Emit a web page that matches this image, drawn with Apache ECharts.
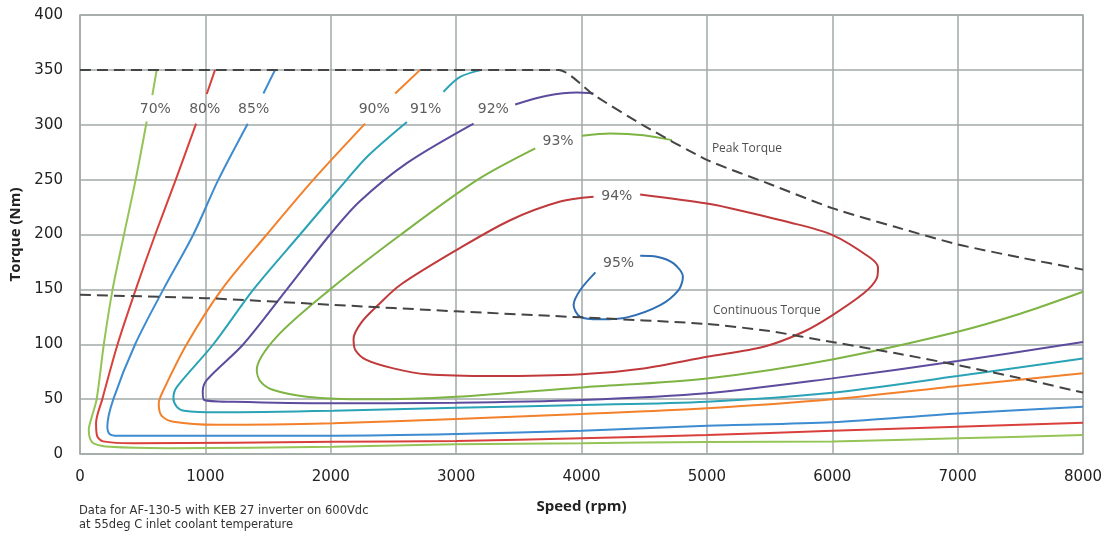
<!DOCTYPE html>
<html><head><meta charset="utf-8">
<script src="https://cdn.jsdelivr.net/npm/echarts@6/dist/echarts.min.js"></script>
<style>html,body{margin:0;padding:0;background:#fff}#c{width:1107px;height:536px}</style>
</head><body><div id="c"></div>
<script>
// Efficiency contours: "Top" = short piece above the label, "Main" = rest of the contour
const eff70Top = [[612,350],[577,327]];
const eff70Main = [[532,303],[444,250],[351,200],[260,150],[190,100],[133,50],[92,33],[70,22],[80,14],[112,9.5],[239,6.5],[692,5.2],[2020,6.7],[3000,8.8],[4000,9.7],[5000,11],[6000,11.5],[7000,14.3],[8000,17.3]];
const eff80Top = [[1077,350],[1011,328]];
const eff80Main = [[926,301],[764,250],[600,200],[445,150],[300,100],[178,50],[128,28],[138,16],[185,11.5],[425,9.7],[2020,11.2],[3000,11.8],[4000,14.3],[5000,17.3],[6000,21.2],[7000,24.9],[8000,28.5]];
const eff85Top = [[1556,350],[1463,328.5]];
const eff85Main = [[1338,301],[1104,250],[904,200],[665,150],[440,100],[266,50],[218,25],[238,18],[300,16.6],[692,16.7],[2020,16.7],[3000,18.2],[4000,21.2],[5000,25.8],[6000,28.9],[7000,37],[8000,43]];
const eff90Top = [[2713,350],[2514,328.5]];
const eff90Main = [[2274,301],[1862,250],[1490,200],[1131,150],[851,100],[665,58],[628,46],[650,35],[745,29.4],[1091,26.6],[2020,28],[3000,31.9],[4000,36.4],[5000,41.6],[6000,49.8],[7000,62],[8000,73.5]];
const eff91Top = [[3205,350],[3032,343.6],[2899,330]];
const eff91Main = [[2607,302.6],[2300,272],[2128,250],[1755,200],[1384,150],[1064,100],[772,61],[745,51],[772,43],[830,39.5],[1091,38],[2020,39.4],[3000,42.2],[4000,44.6],[5000,47.6],[6000,55.8],[7000,71],[8000,87]];
const eff92Top = [[4096,328.5],[3963,329.4],[3724,326.4],[3471,318.5]];
const eff92Main = [[3139,301],[2607,265],[2230,230],[1995,200],[1650,150],[1303,100],[1011,67.4],[979,57],[990,49.2],[1223,47.6],[2020,46.2],[3000,46.7],[4000,49.2],[5000,55.3],[6000,68.9],[7000,84.7],[8000,102]];
const eff93Top = [[4721,286],[4495,290.5],[4230,292],[4004,290]];
const eff93Main = [[3631,278.4],[3166,249.5],[2560,200],[1995,150],[1570,107],[1410,76.5],[1440,66],[1543,58.3],[1809,52.2],[2288,49.8],[3000,52.2],[4000,60.7],[5000,68.9],[6000,86.2],[7000,111.4],[7505,128],[8000,147.8]];
const eff94 = [[4096,234.3],[3830,230],[3431,213],[3006,186],[2554,154],[2380,136],[2245,120],[2182,105],[2195,95],[2280,86],[2500,78],[2767,72.6],[3298,71],[4000,72.6],[4495,78],[5000,88.6],[5453,97.7],[5772,111.4],[6003,126.6],[6251,146.4],[6355,160],[6365,170],[6300,179],[6003,199.5],[5640,211.6],[5187,224],[5000,228.3],[4468,236.5]];
const eff95 = [[4111,165.5],[3990,149.4],[3937,135.7],[3990,125],[4150,122.7],[4363,124.5],[4628,135.7],[4774,149.4],[4809,161.5],[4734,173.7],[4601,179.7],[4468,180.6]];
// Torque limits
const peakTorque = [[0,350],[3820,350],[4100,327],[4500,299],[5000,268],[5500,246],[6000,224],[6500,207],[7000,191],[7500,179],[8000,168]];
const contTorque = [[0,145],[1000,142],[2000,136],[3000,130],[4000,124.5],[5000,118.5],[5500,112],[6000,102],[6500,92],[7000,81],[7500,69],[8000,56]];
// Labels
const effLabels = [[601,314,'70%'],[995,314,'80%'],[1385,314,'85%'],[2347,314,'90%'],[2757,314,'91%'],[3297,314,'92%'],[3813,284.5,'93%'],[4282,234.3,'94%'],[4296,173.7,'95%']];
const limitLabels = [[5040,278.7,'Peak Torque'],[5049,131,'Continuous Torque']];
const noteLines = ['Data for AF-130-5 with KEB 27 inverter on 600Vdc','at 55deg C inlet coolant temperature'];

const C = {70:'#94c456',80:'#d9403b',85:'#3d8bd0',90:'#f3802a',91:'#2aa3b6',92:'#5d4b9e',93:'#7db444',94:'#c03a3c',95:'#2f70b4'};
function ln(data, color){
  return {type:'line', data:data, smooth:0.3, showSymbol:false, symbol:'none',
    lineStyle:{color:color, width:2}, z:3, silent:true};
}
const series = [
  ln(eff70Top,C[70]), ln(eff70Main,C[70]),
  ln(eff80Top,C[80]), ln(eff80Main,C[80]),
  ln(eff85Top,C[85]), ln(eff85Main,C[85]),
  ln(eff90Top,C[90]), ln(eff90Main,C[90]),
  ln(eff91Top,C[91]), ln(eff91Main,C[91]),
  ln(eff92Top,C[92]), ln(eff92Main,C[92]),
  ln(eff93Top,C[93]), ln(eff93Main,C[93]),
  ln(eff94,C[94]), ln(eff95,C[95]),
  {type:'line', data:peakTorque, showSymbol:false, symbol:'none', smooth:0.2,
   lineStyle:{color:'#444', width:2, type:[11,6]}, z:4},
  {type:'line', data:contTorque, showSymbol:false, symbol:'none', smooth:0.2,
   lineStyle:{color:'#444', width:2, type:[11,6]}, z:4},
  {type:'scatter', symbolSize:0, z:5,
   data: effLabels.map(d=>({value:[d[0],d[1]], name:d[2]})),
   label:{show:true, position:'inside', formatter:'{b}', color:'#333', fontSize:14, fontFamily:'DejaVu Sans'}},
  {type:'scatter', symbolSize:0, z:5,
   data: limitLabels.map(d=>({value:[d[0],d[1]], name:d[2]})),
   label:{show:true, position:'right', distance:0, formatter:'{b}', color:'#222', fontSize:12, fontFamily:'Open Sans'}}
];
const chart = echarts.init(document.getElementById('c'), null, {renderer:'canvas'});
chart.setOption({
  animation:false,
  backgroundColor:'#fff',
  grid:{left:80, right:24, top:15, bottom:82, show:true, borderColor:'#a2a9a9', borderWidth:1.5},
  xAxis:{type:'value', min:0, max:8000, interval:1000,
    name:'Speed (rpm)', nameLocation:'middle', nameGap:45,
    nameTextStyle:{fontSize:15, fontWeight:'bold', color:'#222', fontFamily:'Open Sans'},
    axisLine:{show:false}, axisTick:{show:false},
    axisLabel:{fontSize:15, color:'#222', margin:16, fontFamily:'DejaVu Sans', formatter:v=>String(v)},
    splitLine:{show:true, lineStyle:{color:'#a2a9a9', width:1.5}}},
  yAxis:{type:'value', min:0, max:400, interval:50,
    name:'Torque (Nm)', nameLocation:'middle', nameGap:52,
    nameTextStyle:{fontSize:15, fontWeight:'bold', color:'#222', fontFamily:'Open Sans'},
    axisLine:{show:false}, axisTick:{show:false},
    axisLabel:{fontSize:15, color:'#222', margin:17, fontFamily:'DejaVu Sans', formatter:v=>String(v)},
    splitLine:{show:true, lineStyle:{color:'#a2a9a9', width:1.5}}},
  graphic:[
    {type:'text', left:79, top:505, style:{text:noteLines[0], fontSize:11.5, fill:'#333', fontFamily:'DejaVu Sans'}},
    {type:'text', left:79, top:519, style:{text:noteLines[1], fontSize:11.5, fill:'#333', fontFamily:'DejaVu Sans'}}
  ],
  series:series
});
</script></body></html>
